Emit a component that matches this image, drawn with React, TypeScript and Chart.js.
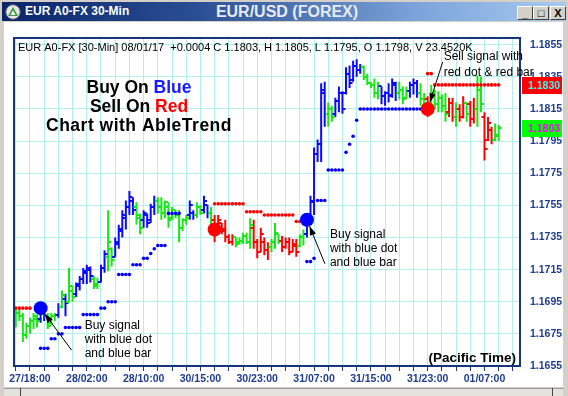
import React, { useEffect, useRef } from 'react';
import { Chart, registerables } from 'chart.js';

Chart.register(...registerables);

const _ = null;

// Bar trend state: B = up (blue), G = sideways (green), R = down (red)
const trend = [
  'G', 'G', 'G', 'G', 'G', 'G', 'G', 'B', 'B', 'G',
  'G', 'G', 'B', 'G', 'B', 'G', 'G', 'B', 'B', 'B',
  'B', 'B', 'G', 'G', 'B', 'B', 'G', 'G', 'B', 'B',
  'B', 'B', 'B', 'B', 'G', 'G', 'B', 'B', 'B', 'B',
  'G', 'G', 'G', 'G', 'G', 'G', 'G', 'G', 'G', 'B',
  'B', 'G', 'G', 'B', 'B', 'G', 'R', 'R', 'R', 'R',
  'R', 'R', 'G', 'G', 'G', 'G', 'G', 'R', 'R', 'R',
  'R', 'R', 'G', 'G', 'G', 'R', 'R', 'R', 'R', 'R',
  'G', 'G', 'B', 'B', 'B', 'B', 'B', 'B', 'G', 'G',
  'B', 'B', 'B', 'B', 'B', 'B', 'B', 'B', 'G', 'G',
  'G', 'G', 'G', 'B', 'B', 'B', 'B', 'B', 'G', 'G',
  'G', 'B', 'B', 'B', 'G', 'G', 'R', 'G', 'G', 'G',
  'G', 'G', 'R', 'R', 'G', 'R', 'R', 'G', 'R', 'R',
  'G', 'G', 'R', 'R', 'R', 'G', 'G',
];

const opens = [
  1.1683, 1.1688, 1.1686, 1.1674, 1.1680, 1.1683, 1.1684, 1.1684, 1.1688, 1.1686,
  1.1682, 1.1686, 1.1687, 1.1692, 1.1697, 1.1695, 1.1702, 1.1700, 1.1705, 1.1709,
  1.1713, 1.1715, 1.1709, 1.1706, 1.1707, 1.1716, 1.1723, 1.1728, 1.1723, 1.1731,
  1.1739, 1.1747, 1.1754, 1.1758, 1.1754, 1.1749, 1.1746, 1.1749, 1.1746, 1.1754,
  1.1758, 1.1754, 1.1750, 1.1754, 1.1747, 1.1752, 1.1749, 1.1741, 1.1746, 1.1749,
  1.1750, 1.1749, 1.1754, 1.1752, 1.1755, 1.1750, 1.1746, 1.1739, 1.1744, 1.1740,
  1.1735, 1.1732, 1.1735, 1.1732, 1.1733, 1.1736, 1.1732, 1.1741, 1.1732, 1.1726,
  1.1732, 1.1727, 1.1729, 1.1732, 1.1737, 1.1733, 1.1729, 1.1732, 1.1726, 1.1730,
  1.1730, 1.1735, 1.1737, 1.1747, 1.1757, 1.1787, 1.1793, 1.1825, 1.1812, 1.1815,
  1.1812, 1.1820, 1.1825, 1.1825, 1.1837, 1.1833, 1.1842, 1.1839, 1.1841, 1.1835,
  1.1831, 1.1830, 1.1825, 1.1829, 1.1823, 1.1825, 1.1824, 1.1830, 1.1825, 1.1827,
  1.1822, 1.1826, 1.1830, 1.1831, 1.1825, 1.1821, 1.1821, 1.1815, 1.1824, 1.1818,
  1.1822, 1.1817, 1.1813, 1.1819, 1.1810, 1.1815, 1.1810, 1.1819, 1.1818, 1.1809,
  1.1815, 1.1827, 1.1810, 1.1796, 1.1802, 1.1796, 1.1798,
];

const highs = [
  1.1691, 1.1692, 1.1688, 1.1682, 1.1685, 1.1688, 1.1687, 1.1693, 1.1689, 1.1688,
  1.1688, 1.1688, 1.1694, 1.1702, 1.1700, 1.1716, 1.1705, 1.1707, 1.1711, 1.1716,
  1.1718, 1.1717, 1.1711, 1.1710, 1.1718, 1.1727, 1.1752, 1.1729, 1.1735, 1.1743,
  1.1752, 1.1758, 1.1764, 1.1760, 1.1757, 1.1750, 1.1752, 1.1750, 1.1756, 1.1761,
  1.1760, 1.1760, 1.1758, 1.1757, 1.1754, 1.1752, 1.1752, 1.1747, 1.1749, 1.1758,
  1.1752, 1.1757, 1.1755, 1.1761, 1.1755, 1.1754, 1.1749, 1.1749, 1.1744, 1.1746,
  1.1737, 1.1737, 1.1735, 1.1735, 1.1738, 1.1738, 1.1747, 1.1746, 1.1734, 1.1741,
  1.1735, 1.1732, 1.1734, 1.1744, 1.1737, 1.1736, 1.1735, 1.1735, 1.1734, 1.1734,
  1.1737, 1.1740, 1.1749, 1.1761, 1.1791, 1.1796, 1.1831, 1.1832, 1.1819, 1.1817,
  1.1822, 1.1829, 1.1826, 1.1841, 1.1842, 1.1845, 1.1846, 1.1843, 1.1842, 1.1837,
  1.1832, 1.1834, 1.1832, 1.1829, 1.1826, 1.1831, 1.1834, 1.1832, 1.1832, 1.1829,
  1.1829, 1.1832, 1.1834, 1.1833, 1.1831, 1.1825, 1.1823, 1.1830, 1.1827, 1.1826,
  1.1824, 1.1825, 1.1822, 1.1822, 1.1819, 1.1818, 1.1823, 1.1819, 1.1820, 1.1822,
  1.1836, 1.1835, 1.1813, 1.1810, 1.1804, 1.1806, 1.1805,
];

const lows = [
  1.1679, 1.1683, 1.1670, 1.1672, 1.1675, 1.1678, 1.1679, 1.1682, 1.1683, 1.1678,
  1.1680, 1.1683, 1.1685, 1.1691, 1.1686, 1.1695, 1.1695, 1.1698, 1.1702, 1.1706,
  1.1706, 1.1707, 1.1703, 1.1703, 1.1707, 1.1713, 1.1714, 1.1717, 1.1723, 1.1728,
  1.1735, 1.1740, 1.1749, 1.1749, 1.1743, 1.1737, 1.1741, 1.1741, 1.1744, 1.1749,
  1.1750, 1.1746, 1.1747, 1.1741, 1.1746, 1.1747, 1.1732, 1.1739, 1.1743, 1.1746,
  1.1746, 1.1747, 1.1749, 1.1750, 1.1747, 1.1743, 1.1732, 1.1737, 1.1737, 1.1732,
  1.1731, 1.1730, 1.1729, 1.1731, 1.1731, 1.1731, 1.1728, 1.1728, 1.1722, 1.1726,
  1.1724, 1.1721, 1.1726, 1.1728, 1.1731, 1.1726, 1.1728, 1.1724, 1.1726, 1.1723,
  1.1729, 1.1730, 1.1735, 1.1743, 1.1749, 1.1782, 1.1782, 1.1804, 1.1804, 1.1807,
  1.1810, 1.1813, 1.1812, 1.1824, 1.1828, 1.1832, 1.1835, 1.1837, 1.1833, 1.1830,
  1.1828, 1.1822, 1.1821, 1.1818, 1.1817, 1.1819, 1.1822, 1.1820, 1.1821, 1.1818,
  1.1821, 1.1822, 1.1824, 1.1822, 1.1817, 1.1812, 1.1810, 1.1812, 1.1815, 1.1813,
  1.1813, 1.1807, 1.1810, 1.1807, 1.1804, 1.1807, 1.1809, 1.1807, 1.1804, 1.1806,
  1.1804, 1.1813, 1.1783, 1.1795, 1.1793, 1.1795, 1.1795,
];

const closes = [
  1.1688, 1.1686, 1.1674, 1.1680, 1.1683, 1.1686, 1.1683, 1.1691, 1.1686, 1.1680,
  1.1686, 1.1687, 1.1692, 1.1699, 1.1694, 1.1705, 1.1698, 1.1706, 1.1709, 1.1714,
  1.1716, 1.1711, 1.1705, 1.1707, 1.1716, 1.1725, 1.1732, 1.1721, 1.1732, 1.1740,
  1.1749, 1.1754, 1.1760, 1.1752, 1.1747, 1.1741, 1.1750, 1.1744, 1.1754, 1.1758,
  1.1754, 1.1750, 1.1757, 1.1746, 1.1752, 1.1749, 1.1741, 1.1746, 1.1747, 1.1755,
  1.1749, 1.1754, 1.1750, 1.1758, 1.1750, 1.1746, 1.1738, 1.1746, 1.1739, 1.1735,
  1.1732, 1.1735, 1.1731, 1.1733, 1.1736, 1.1732, 1.1743, 1.1732, 1.1726, 1.1737,
  1.1727, 1.1729, 1.1732, 1.1738, 1.1733, 1.1729, 1.1732, 1.1726, 1.1731, 1.1726,
  1.1735, 1.1737, 1.1747, 1.1758, 1.1787, 1.1793, 1.1827, 1.1812, 1.1815, 1.1810,
  1.1820, 1.1825, 1.1815, 1.1837, 1.1831, 1.1842, 1.1839, 1.1841, 1.1835, 1.1831,
  1.1830, 1.1825, 1.1829, 1.1823, 1.1825, 1.1823, 1.1831, 1.1825, 1.1827, 1.1821,
  1.1826, 1.1830, 1.1831, 1.1825, 1.1821, 1.1817, 1.1813, 1.1825, 1.1818, 1.1822,
  1.1817, 1.1812, 1.1819, 1.1810, 1.1815, 1.1810, 1.1819, 1.1812, 1.1809, 1.1815,
  1.1827, 1.1818, 1.1790, 1.1806, 1.1796, 1.1799, 1.1803,
];

// AbleTrend stop levels (blue = support under an up trend, red = resistance over a down trend)
const blueStop = [
  _, _, _, _, _, _, _, 1.1666, 1.1666, 1.1666,
  1.1672, 1.1672, 1.1675, 1.1675, 1.1679, 1.1679, 1.1679, 1.1679, 1.1679, 1.1687,
  1.1687, 1.1687, 1.1687, 1.1687, 1.1691, 1.1691, 1.1695, 1.1695, 1.1695, 1.1712,
  1.1712, 1.1712, 1.1712, 1.1718, 1.1718, 1.1718, 1.1722, 1.1722, 1.1725, 1.1728,
  1.1730, 1.1730, 1.1730, 1.1750, 1.1750, 1.1750, 1.1750, _, _, _,
  _, _, _, _, _, _, _, _, _, _,
  _, _, _, _, _, _, _, _, _, _,
  _, _, _, _, _, _, _, _, _, _,
  _, _, 1.1720, 1.1720, 1.1722, 1.1758, 1.1758, 1.1758, 1.1777, 1.1777,
  1.1777, 1.1777, 1.1777, 1.1788, 1.1793, 1.1798, 1.1808, 1.1815, 1.1815, 1.1815,
  1.1815, 1.1815, 1.1815, 1.1815, 1.1815, 1.1815, 1.1815, 1.1815, 1.1815, 1.1815,
  1.1815, 1.1815, 1.1815, 1.1815, 1.1815, 1.1815, _, _, _, _,
  _, _, _, _, _, _, _, _, _, _,
  _, _, _, _, _, _, _,
];

const redStop = [
  1.1691, 1.1691, 1.1691, 1.1691, 1.1691, _, _, _, _, _,
  _, _, _, _, _, _, _, _, _, _,
  _, _, _, _, _, _, _, _, _, _,
  _, _, _, _, _, _, _, _, _, _,
  _, _, _, _, _, _, _, _, _, _,
  _, _, _, _, _, _, 1.1756, 1.1756, 1.1756, 1.1756,
  1.1756, 1.1756, 1.1756, 1.1756, 1.1756, 1.1751, 1.1751, 1.1751, 1.1751, 1.1751,
  1.1749, 1.1749, 1.1749, 1.1749, 1.1749, 1.1749, 1.1749, 1.1749, 1.1749, 1.1745,
  1.1745, 1.1745, _, _, _, _, _, _, _, _,
  _, _, _, _, _, _, _, _, _, _,
  _, _, _, _, _, _, _, _, _, _,
  _, _, _, _, _, _, 1.1837, 1.1837, 1.1830, 1.1830,
  1.1830, 1.1830, 1.1830, 1.1830, 1.1830, 1.1830, 1.1830, 1.1830, 1.1830, 1.1830,
  1.1830, 1.1830, 1.1830, 1.1830, 1.1830, 1.1830, 1.1830,
];

const buyBars = [7, 82];
const buyPrices = [1.1691, 1.1746];
const sellBars = [56, 116];
const sellPrices = [1.1740, 1.1815];

const timeLabels = ['27/18:00', '28/02:00', '28/10:00', '30/15:00', '30/23:00', '31/07:00', '31/15:00', '31/23:00', '01/07:00'];
const priceTicks = [1.1655, 1.1675, 1.1695, 1.1715, 1.1735, 1.1755, 1.1775, 1.1795, 1.1815, 1.1835, 1.1855];

const symbolName = 'EUR A0-FX';
const barPeriod = '30-Min';
const sessionDate = '08/01/17';
const lastVolume = '23.4520K';

const FONT = '"Liberation Sans", Arial, Helvetica, sans-serif';
const TREND_COLORS: Record<string, string> = { B: '#0a0aff', G: '#16e816', R: '#ff0000' };
const GRID_COLOR = '#b6eeee';
const AXIS_TEXT = '#1f3d8f';
const FRAME = '#17367a';

const LABEL_EVERY = 16;
const GRID_EVERY = 4;
const gridBars: number[] = [];
for (let v = 0; v <= 140; v += GRID_EVERY) gridBars.push(v);

function drawArrow(ctx: CanvasRenderingContext2D, tx: number, ty: number, hx: number, hy: number) {
  ctx.beginPath();
  ctx.moveTo(tx, ty);
  ctx.lineTo(hx, hy);
  ctx.stroke();
  const ang = Math.atan2(hy - ty, hx - tx);
  const len = 9;
  const half = 3.2;
  const bx = hx - len * Math.cos(ang);
  const by = hy - len * Math.sin(ang);
  ctx.beginPath();
  ctx.moveTo(hx, hy);
  ctx.lineTo(bx + half * Math.sin(ang), by - half * Math.cos(ang));
  ctx.lineTo(bx - half * Math.sin(ang), by + half * Math.cos(ang));
  ctx.closePath();
  ctx.fill();
}

// Open (left) and close (right) ticks on every price bar
const ohlcTicks = {
  id: 'ohlcTicks',
  afterDatasetDraw(chart: any, args: any) {
    if (chart.data.datasets[args.index].type !== 'bar') return;
    const { ctx, scales: { x, y } } = chart;
    ctx.save();
    ctx.lineWidth = 2;
    for (let j = 0; j < opens.length; j++) {
      const px = x.getPixelForValue(j);
      const yo = Math.round(y.getPixelForValue(opens[j]));
      const yc = Math.round(y.getPixelForValue(closes[j]));
      ctx.strokeStyle = TREND_COLORS[trend[j]];
      ctx.beginPath();
      ctx.moveTo(px - 3, yo);
      ctx.lineTo(px, yo);
      ctx.moveTo(px, yc);
      ctx.lineTo(px + 3, yc);
      ctx.stroke();
    }
    ctx.restore();
  },
};

const plotFrame = {
  id: 'plotFrame',
  afterDatasetsDraw(chart: any) {
    const { ctx, chartArea: a } = chart;
    ctx.save();
    ctx.strokeStyle = FRAME;
    ctx.lineWidth = 2;
    ctx.strokeRect(Math.round(a.left), Math.round(a.top), Math.round(a.right - a.left), Math.round(a.bottom - a.top));
    ctx.restore();
  },
};

const notes = {
  id: 'notes',
  afterDraw(chart: any) {
    const { ctx, chartArea: a, scales: { x, y } } = chart;
    const n = closes.length - 1;
    ctx.save();
    ctx.textBaseline = 'middle';

    // quote line
    const change = closes[n] - closes[n - 1];
    const header = `${symbolName} [${barPeriod}] ${sessionDate}  ${change >= 0 ? '+' : '-'}${Math.abs(change).toFixed(4)} C ${closes[n].toFixed(4)}, H ${highs[n].toFixed(4)}, L ${lows[n].toFixed(4)}, O ${opens[n].toFixed(4)}, V ${lastVolume}`;
    ctx.fillStyle = '#000';
    ctx.font = `11px ${FONT}`;
    ctx.textAlign = 'left';
    ctx.fillText(header, a.left + 4, a.top + 10);

    // legend block
    ctx.font = `bold 17.5px ${FONT}`;
    const cx = a.left + 125;
    const mixed = (parts: [string, string][], yy: number, spacing: number) => {
      (ctx as any).letterSpacing = `${spacing}px`;
      const total = parts.reduce((s, p) => s + ctx.measureText(p[0]).width, 0);
      let xx = cx - total / 2;
      for (const [t, c] of parts) {
        ctx.fillStyle = c;
        ctx.fillText(t, xx, yy);
        xx += ctx.measureText(t).width;
      }
      (ctx as any).letterSpacing = '0px';
    };
    mixed([['Buy On ', '#000'], ['Blue', '#1a1aff']], a.top + 50, 0);
    mixed([['Sell On ', '#000'], ['Red', '#ff0000']], a.top + 69, 0);
    mixed([['Chart with AbleTrend', '#000']], a.top + 88, 0.5);

    // signal call-outs
    const callouts = [
      { px: x.getPixelForValue(buyBars[0]), py: y.getPixelForValue(buyPrices[0]), lines: ['Buy signal', 'with blue dot', 'and blue bar'], dx: 44, dy: 18, gap: 14, tail: [31, 42] },
      { px: x.getPixelForValue(buyBars[1]), py: y.getPixelForValue(buyPrices[1]), lines: ['Buy signal', 'with blue dot', 'and blue bar'], dx: 23, dy: 15, gap: 14, tail: [18, 44] },
      { px: x.getPixelForValue(sellBars[1]), py: y.getPixelForValue(sellPrices[1]), lines: ['Sell signal with', 'red dot & red bar'], dx: 16, dy: -52, gap: 16, tail: [15, -47] },
    ];
    ctx.font = `12px ${FONT}`;
    ctx.fillStyle = '#000';
    ctx.strokeStyle = '#000';
    ctx.lineWidth = 1;
    for (const c of callouts) {
      c.lines.forEach((t, k) => ctx.fillText(t, c.px + c.dx, c.py + c.dy + k * c.gap));
      const tx = c.px + c.tail[0];
      const ty = c.py + c.tail[1];
      const d = Math.hypot(c.tail[0], c.tail[1]);
      drawArrow(ctx, tx, ty, c.px + (c.tail[0] / d) * 7, c.py + (c.tail[1] / d) * 7);
    }

    ctx.font = `bold 13.5px ${FONT}`;
    ctx.textAlign = 'right';
    ctx.fillText('(Pacific Time)', a.right - 4, a.bottom - 8);

    // price flags on the scale
    const flag = (value: number, bg: string, fg: string) => {
      const yy = Math.round(y.getPixelForValue(value));
      ctx.fillStyle = bg;
      ctx.fillRect(a.right + 2, yy - 8, 40, 17);
      ctx.fillStyle = fg;
      ctx.font = `bold 10.5px ${FONT}`;
      ctx.textAlign = 'left';
      ctx.fillText(value.toFixed(4), a.right + 8, yy + 1);
    };
    flag(redStop[n] as number, '#ff0000', '#3cf4f4');
    flag(closes[n], '#00ff00', '#ff00ff');
    ctx.restore();
  },
};

export default function App() {
  const ref = useRef<HTMLCanvasElement>(null);

  useEffect(() => {
    const barData = highs.map((h, j) => ({ x: j, y: [lows[j], h] }));
    const chart = new Chart(ref.current as HTMLCanvasElement, {
      type: 'bar',
      data: {
        datasets: [
          {
            type: 'line',
            label: 'Buy signal',
            data: buyBars.map((b, k) => ({ x: b, y: buyPrices[k] })),
            showLine: false,
            pointRadius: 7,
            pointBackgroundColor: '#0000ff',
            pointBorderWidth: 0,
            order: 0,
          },
          {
            type: 'line',
            label: 'Sell signal',
            data: sellBars.map((b, k) => ({ x: b, y: sellPrices[k] })),
            showLine: false,
            pointRadius: 7,
            pointBackgroundColor: '#ff0000',
            pointBorderWidth: 0,
            order: 0,
          },
          {
            type: 'line',
            label: 'Up stop',
            data: blueStop.map((v, j) => ({ x: j, y: v })),
            showLine: false,
            pointRadius: 1.8,
            pointBackgroundColor: '#0000ff',
            pointBorderWidth: 0,
            order: 1,
          },
          {
            type: 'line',
            label: 'Down stop',
            data: redStop.map((v, j) => ({ x: j, y: v })),
            showLine: false,
            pointRadius: 1.8,
            pointBackgroundColor: '#ff0000',
            pointBorderWidth: 0,
            order: 1,
          },
          {
            type: 'bar',
            label: 'EUR/USD',
            data: barData,
            backgroundColor: trend.map((t) => TREND_COLORS[t]),
            borderWidth: 0,
            barThickness: 2,
            inflateAmount: 0,
            grouped: false,
            order: 2,
          },
        ] as any,
      },
      options: {
        responsive: false,
        animation: false,
        events: [],
        layout: { padding: { left: 10, top: 11, right: 0, bottom: 0 } },
        plugins: { legend: { display: false }, tooltip: { enabled: false } },
        scales: {
          x: {
            type: 'linear',
            min: -0.5,
            max: 142,
            offset: false,
            afterBuildTicks: (s: any) => {
              s.ticks = gridBars.map((v) => ({ value: v }));
            },
            afterFit: (s: any) => {
              s.height = 20;
            },
            grid: { color: GRID_COLOR, offset: false, tickLength: 5, tickColor: '#233a70', drawTicks: true },
            border: { display: false },
            ticks: {
              autoSkip: false,
              maxRotation: 0,
              padding: 2,
              color: AXIS_TEXT,
              font: { family: FONT, size: 10.5, weight: 'bold' },
              callback: (v: any) => {
                const k = (Number(v) - 4) / LABEL_EVERY;
                return Number.isInteger(k) && k >= 0 && k < timeLabels.length ? timeLabels[k] : '';
              },
            },
          },
          y: {
            type: 'linear',
            position: 'right',
            min: 1.1655,
            max: 1.1859,
            afterBuildTicks: (s: any) => {
              s.ticks = priceTicks.map((v) => ({ value: v }));
            },
            afterFit: (s: any) => {
              s.width = 43;
            },
            grid: { color: GRID_COLOR, drawTicks: false },
            border: { display: false },
            ticks: {
              padding: 10,
              color: AXIS_TEXT,
              font: { family: FONT, size: 10.5, weight: 'bold' },
              callback: (v: any) => Number(v).toFixed(4),
            },
          },
        },
      } as any,
      plugins: [ohlcTicks, plotFrame, notes],
    });
    return () => chart.destroy();
  }, []);

  const btn: React.CSSProperties = {
    position: 'absolute',
    top: 4,
    width: 14,
    height: 12,
    background: '#d4d0c8',
    borderStyle: 'solid',
    borderWidth: 1,
    borderColor: '#ffffff #404040 #404040 #ffffff',
    fontFamily: FONT,
    fontSize: 11,
    fontWeight: 'bold',
    lineHeight: '12px',
    textAlign: 'center',
    color: '#000',
  };

  return (
    <div style={{ position: 'fixed', left: 0, top: 0, width: 568, height: 396, background: '#d4d0c8', overflow: 'hidden' }}>
      <div
        style={{
          position: 'absolute',
          left: 2,
          top: 2,
          width: 564,
          height: 19,
          background: 'linear-gradient(90deg, #0a246a 0%, #2b4f93 35%, #7fa6dc 75%, #a6caf0 100%)',
        }}
      >
        <svg width="16" height="16" style={{ position: 'absolute', left: 3, top: 2 }}>
          <circle cx="8" cy="8" r="7.2" fill="#e6e6e6" stroke="#6a6a6a" strokeWidth="1" />
          <polygon points="8,3 13,12 3,12" fill="#3a9a3a" />
          <polygon points="8,6.5 10.6,11 5.4,11" fill="#ffffff" />
        </svg>
        <div style={{ position: 'absolute', left: 23, top: 0, lineHeight: '19px', color: '#fff', fontFamily: FONT, fontWeight: 'bold', fontSize: 12 }}>
          {`${symbolName} ${barPeriod}`}
        </div>
        <div style={{ position: 'absolute', left: 185, width: 200, top: 0, lineHeight: '19px', textAlign: 'center', color: '#e8ebf3', fontFamily: FONT, fontWeight: 'bold', fontSize: 16 }}>
          EUR/USD (FOREX)
        </div>
        <div style={{ ...btn, left: 515 }}>_</div>
        <div style={{ ...btn, left: 531 }}>□</div>
        <div style={{ ...btn, left: 548 }}>X</div>
      </div>
      <div style={{ position: 'absolute', left: 4, top: 22, width: 559, height: 365, background: '#ffffff' }}>
        <canvas ref={ref} width={559} height={364} style={{ display: 'block' }} />
      </div>
      <div style={{ position: 'absolute', left: 4, top: 388, width: 559, height: 8, borderTop: '1px solid #9a9a9a', background: '#e4e2dc' }} />
      <div style={{ position: 'absolute', left: 20, top: 388, width: 1, height: 8, background: '#444' }} />
      <div style={{ position: 'absolute', left: 552, top: 388, width: 1, height: 8, background: '#444' }} />
    </div>
  );
}
